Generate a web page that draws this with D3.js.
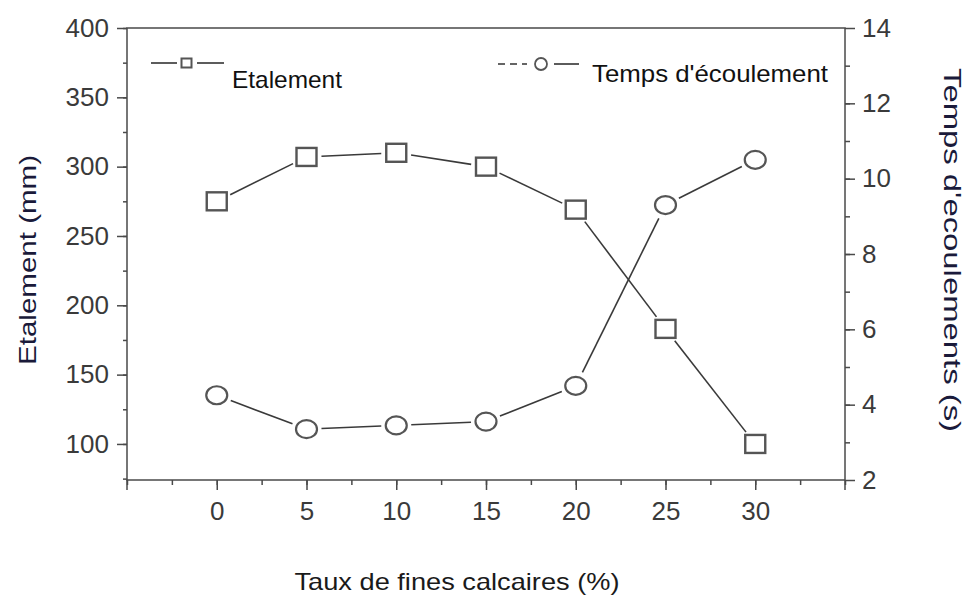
<!DOCTYPE html>
<html><head><meta charset="utf-8">
<script src="https://cdn.jsdelivr.net/npm/d3@7"></script>
<style>body{margin:0;background:#fff}svg{display:block}text{font-family:"Liberation Sans",Arial,sans-serif}</style>
</head><body>
<svg id="c" width="968" height="596"></svg>
<script>
const taux = [0, 5, 10, 15, 20, 25, 30];
const etalement = [275, 307, 310, 300, 269, 183, 100];
const temps = [4.25, 3.35, 3.45, 3.55, 4.5, 9.3, 10.5];
const xTicks = [0, 5, 10, 15, 20, 25, 30];
const yLeftTicks = [100, 150, 200, 250, 300, 350, 400];
const yRightTicks = [2, 4, 6, 8, 10, 12, 14];

const svg = d3.select("#c");
const L = 127, R = 845, T = 28, B = 480;
const x = d3.scaleLinear().domain([-5, 35]).range([L, R]);
const yL = d3.scaleLinear().domain([74, 400]).range([B, T]);
const yR = d3.scaleLinear().domain([2, 14]).range([B, T]);
const axCol = "#4a4a4a", txtCol = "#3a3a3a";

// frame
svg.append("rect").attr("x", L).attr("y", T).attr("width", R - L).attr("height", B - T)
  .attr("fill", "none").attr("stroke", axCol).attr("stroke-width", 1.5);

function styleAxis(g) {
  g.select(".domain").remove();
  g.selectAll("line").attr("stroke", axCol).attr("stroke-width", 1.5);
  g.selectAll("text").attr("fill", txtCol).style("font-size", "26px");
}
// x axis
const gx = svg.append("g").attr("transform", `translate(0,${B})`);
gx.call(d3.axisBottom(x).tickValues(d3.range(-5, 35.1, 2.5)).tickSize(5).tickFormat("")).call(styleAxis);
const gx2 = svg.append("g").attr("transform", `translate(0,${B})`);
gx2.call(d3.axisBottom(x).tickValues(xTicks).tickSize(10).tickPadding(12).tickFormat(d3.format("d"))).call(styleAxis);
gx2.append("line").attr("x1", x(-5)).attr("x2", x(-5)).attr("y1", 0).attr("y2", 10).attr("stroke", axCol).attr("stroke-width", 1.5);
gx2.append("line").attr("x1", x(35)).attr("x2", x(35)).attr("y1", 0).attr("y2", 10).attr("stroke", axCol).attr("stroke-width", 1.5);

// left axis
const gl = svg.append("g").attr("transform", `translate(${L},0)`);
gl.call(d3.axisLeft(yL).tickValues(d3.range(75, 400.1, 25)).tickSize(4).tickFormat("")).call(styleAxis);
const gl2 = svg.append("g").attr("transform", `translate(${L},0)`);
gl2.call(d3.axisLeft(yL).tickValues(yLeftTicks).tickSize(10).tickPadding(8)).call(styleAxis);

// right axis
const gr = svg.append("g").attr("transform", `translate(${R},0)`);
gr.call(d3.axisRight(yR).tickValues(d3.range(3, 14, 1)).tickSize(5).tickFormat("")).call(styleAxis);
const gr2 = svg.append("g").attr("transform", `translate(${R},0)`);
gr2.call(d3.axisRight(yR).tickValues(yRightTicks).tickSize(10).tickPadding(7)).call(styleAxis);

// axis titles
svg.append("text").attr("transform", `translate(36,260) rotate(-90)`).attr("text-anchor", "middle")
  .style("font-size", "24px").attr("fill", "#1a1a3a")
  .attr("textLength", 210).attr("lengthAdjust", "spacingAndGlyphs").text("Etalement (mm)");
svg.append("text").attr("transform", `translate(944,250) rotate(90)`).attr("text-anchor", "middle")
  .style("font-size", "24px").attr("fill", "#1a1a3a")
  .attr("textLength", 364).attr("lengthAdjust", "spacingAndGlyphs").text("Temps d'ecoulements (s)");
svg.append("text").attr("x", 457).attr("y", 590).attr("text-anchor", "middle")
  .style("font-size", "24px").attr("fill", "#1a1a1a")
  .attr("textLength", 325).attr("lengthAdjust", "spacingAndGlyphs").text("Taux de fines calcaires (%)");

// series with gaps near markers
function drawSeries(ys, vals, gap) {
  const pts = taux.map((t, i) => [x(t), ys(vals[i])]);
  for (let i = 0; i < pts.length - 1; i++) {
    const [x1, y1] = pts[i], [x2, y2] = pts[i + 1];
    const dx = x2 - x1, dy = y2 - y1, len = Math.hypot(dx, dy);
    const ux = dx / len, uy = dy / len;
    svg.append("line")
      .attr("x1", x1 + ux * gap).attr("y1", y1 + uy * gap)
      .attr("x2", x2 - ux * gap).attr("y2", y2 - uy * gap)
      .attr("stroke", "#3a3a3a").attr("stroke-width", 1.6);
  }
  return pts;
}
const pE = drawSeries(yL, etalement, 15);
const pT = drawSeries(yR, temps, 15);
svg.selectAll(".sq").data(pE).enter().append("rect")
  .attr("x", d => d[0] - 10).attr("y", d => d[1] - 9).attr("width", 20).attr("height", 18)
  .attr("fill", "#fff").attr("stroke", "#555").attr("stroke-width", 2.4);
svg.selectAll(".ci").data(pT).enter().append("ellipse")
  .attr("cx", d => d[0]).attr("cy", d => d[1]).attr("rx", 10.5).attr("ry", 9)
  .attr("fill", "#fff").attr("stroke", "#555").attr("stroke-width", 2.2);

// legend
const lg = svg.append("g");
lg.append("line").attr("x1", 151).attr("x2", 177).attr("y1", 63).attr("y2", 63).attr("stroke", "#333").attr("stroke-width", 1.6);
lg.append("line").attr("x1", 197).attr("x2", 224).attr("y1", 63).attr("y2", 63).attr("stroke", "#333").attr("stroke-width", 1.6);
lg.append("rect").attr("x", 181.5).attr("y", 58.5).attr("width", 10).attr("height", 9).attr("fill", "#fff").attr("stroke", "#555").attr("stroke-width", 2);
lg.append("text").attr("x", 232).attr("y", 88).style("font-size", "24px").attr("fill", "#111")
  .attr("textLength", 110).attr("lengthAdjust", "spacingAndGlyphs").text("Etalement");
lg.append("line").attr("x1", 498).attr("x2", 527).attr("y1", 64).attr("y2", 64).attr("stroke", "#333").attr("stroke-width", 1.6).attr("stroke-dasharray", "7,5");
lg.append("line").attr("x1", 554).attr("x2", 579).attr("y1", 64).attr("y2", 64).attr("stroke", "#333").attr("stroke-width", 1.6);
lg.append("circle").attr("cx", 541).attr("cy", 64).attr("r", 6).attr("fill", "#fff").attr("stroke", "#555").attr("stroke-width", 1.8);
lg.append("text").attr("x", 592).attr("y", 82).style("font-size", "24px").attr("fill", "#111")
  .attr("textLength", 236).attr("lengthAdjust", "spacingAndGlyphs").text("Temps d'écoulement");
</script>
</body></html>
